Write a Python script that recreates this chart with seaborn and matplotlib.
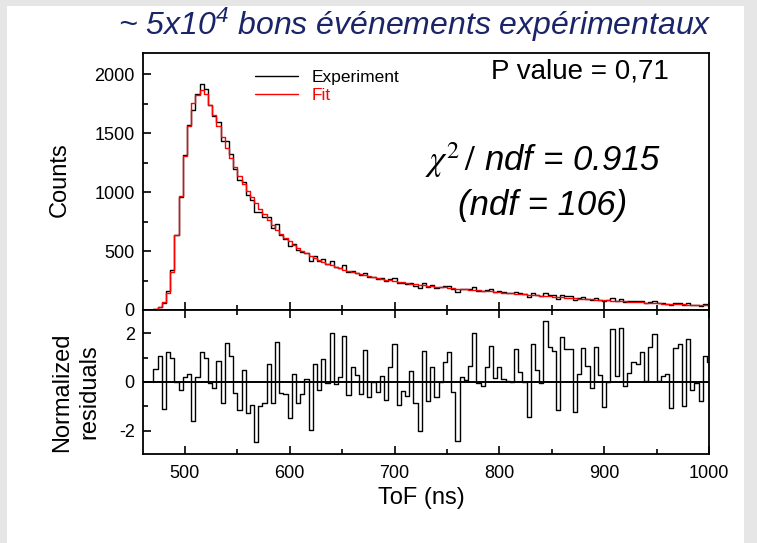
import numpy as np
import pandas as pd
import matplotlib
matplotlib.use("Agg")
import matplotlib.pyplot as plt
import seaborn as sns
from matplotlib.patches import Rectangle
from matplotlib.ticker import MultipleLocator

# ---------------- data ----------------
bin_start = 458          # ns, left edge of first histogram bin
bin_width = 4            # ns
experiment = [0, 1, 2,
    6, 29, 62, 162, 342, 633, 955, 1311, 1568, 1691, 1834, 1916, 1870,
    1738, 1641, 1590, 1429, 1430, 1325, 1193, 1098, 1088, 971,
    928, 831, 828, 786, 785, 699, 725, 634, 600, 546,
    560, 507, 492, 484, 419, 458, 418, 428, 393, 419,
    365, 359, 378, 322, 333, 317, 294, 317, 276, 278,
    264, 268, 245, 261, 269, 225, 228, 220, 231, 206,
    185, 229, 196, 212, 190, 195, 203, 205, 179, 149,
    181, 176, 181, 195, 165, 161, 168, 175, 156, 159,
    149, 146, 142, 155, 141, 133, 114, 145, 130, 121,
    145, 130, 125, 97, 125, 117, 115, 86, 99, 106,
    97, 87, 100, 87, 74, 81, 98, 79, 94, 72,
    74, 76, 73, 75, 63, 72, 74, 57, 57, 55,
    43, 60, 59, 40, 57, 42, 42, 36, 47, 44]
fit = [0, 1, 2,
    5, 24, 72, 147, 325, 633, 965, 1303, 1556, 1757, 1825, 1862, 1828,
    1740, 1652, 1556, 1462, 1372, 1287, 1208, 1137, 1072, 1012,
    957, 905, 857, 810, 765, 722, 682, 645, 612, 581,
    553, 527, 503, 481, 461, 442, 425, 409, 394, 380,
    367, 355, 343, 332, 322, 312, 303, 294, 286, 278,
    271, 264, 257, 251, 245, 239, 234, 229, 224, 219,
    215, 211, 207, 203, 199, 195, 192, 188, 185, 182,
    178, 175, 172, 169, 166, 163, 160, 157, 154, 151,
    148, 145, 142, 139, 136, 133, 130, 127, 124, 121,
    118, 115, 112, 109, 106, 103, 101, 98, 96, 93,
    91, 89, 87, 85, 83, 81, 79, 77, 75, 73,
    71, 69, 67, 65, 63, 61, 59, 57, 55, 53,
    51, 50, 48, 47, 45, 44, 42, 41, 40, 39]
resid_start = 470        # ns, first fitted bin
residuals = [
    0.55, 1.08, -1.12, 1.24, 0.96, 0.02, -0.32, 0.22, 0.31, -1.58,
    0.22, 1.24, 0.99, -0.04, -0.26, 0.86, -0.86, 1.58, 1.07, -0.43,
    -1.15, 0.50, -1.28, -0.93, -2.47, -0.99, -0.84, 0.74, -0.86, 1.65,
    -0.43, -0.49, -1.46, 0.31, -0.86, -0.47, 0.12, -1.95, 0.74, -0.34,
    0.93, -0.03, 2.01, -0.09, 0.22, 1.89, -0.54, 0.62, 0.30, -0.51,
    1.32, -0.62, 0.01, -0.42, 0.23, -0.73, 0.62, 1.54, -0.93, -0.36,
    -0.57, 0.45, -0.86, -2.01, 1.26, -0.78, 0.62, -0.61, 0.02, 0.80,
    1.23, -0.42, -2.42, 0.22, 0.09, 0.65, 2.01, -0.04, -0.16, 0.62,
    1.45, 0.15, 0.62, 0.11, 0.05, 0.01, 1.34, 0.39, 0.02, -1.42,
    1.57, 0.51, -0.04, 2.49, 1.41, 1.26, -1.14, 1.85, 1.35, 1.35,
    -1.22, 0.31, 1.39, 0.66, -0.23, 1.41, 0.27, -1.04, 0.02, 2.16,
    0.24, 2.19, -0.16, 0.35, 0.82, 0.72, 1.23, 0.05, 1.43, 1.96,
    0.05, 0.23, 0.31, -1.08, 1.39, 1.55, -0.97, 1.74, -0.34, -0.05,
    -0.77, 1.07, 0.82]

x_ticks = [500, 600, 700, 800, 900, 1000]
count_ticks = [0, 500, 1000, 1500, 2000]
resid_ticks = [-2, 0, 2]

title = "~ 5x10$^{4}$ bons événements expérimentaux"
p_text = "P value = 0,71"
chi_text = r"$\chi^2\,/$ ndf = 0.915"
ndf_text = "(ndf = 106)"

# ---------------- style ----------------
sns.set_style("white")
plt.rcParams["font.family"] = ["Liberation Sans", "DejaVu Sans"]
plt.rcParams["mathtext.fontset"] = "custom"
plt.rcParams["mathtext.rm"] = "Liberation Sans:italic"
plt.rcParams["mathtext.it"] = "Liberation Sans:italic"
plt.rcParams["axes.unicode_minus"] = False

W, H = 757, 543
fig = plt.figure(figsize=(W / 100, H / 100), dpi=100)
fig.patch.set_facecolor("#e6e6e6")
fig.add_artist(Rectangle((7 / W, 0), (744 - 7) / W, (H - 6) / H,
                         transform=fig.transFigure, facecolor="white",
                         edgecolor="none", zorder=-10))

def fx(px):
    return px / W

def fy(py):
    return 1 - py / H

L, R = 143, 709
ax1 = fig.add_axes([fx(L), fy(310), (R - L) / W, (310 - 53) / H])
ax2 = fig.add_axes([fx(L), fy(454), (R - L) / W, (454 - 310) / H])

# top panel: step histograms
n = len(experiment)
edges = [bin_start + bin_width * i for i in range(n + 1)]
df_top = pd.DataFrame({
    "tof": edges + edges,
    "counts": experiment + [experiment[-1]] + fit + [fit[-1]],
    "series": ["Experiment"] * (n + 1) + ["Fit"] * (n + 1),
})
sns.lineplot(data=df_top[df_top.series == "Experiment"], x="tof", y="counts",
             drawstyle="steps-post", estimator=None, sort=False,
             color="black", lw=1.0, label="Experiment", ax=ax1)
sns.lineplot(data=df_top[df_top.series == "Fit"], x="tof", y="counts",
             drawstyle="steps-post", estimator=None, sort=False,
             color="#ff0000", lw=1.0, label="Fit", ax=ax1)

# residual panel
m = len(residuals)
redges = [resid_start + bin_width * i for i in range(m + 1)]
df_res = pd.DataFrame({"tof": [resid_start] + redges,
                       "res": [0.0] + residuals + [residuals[-1]]})
sns.lineplot(data=df_res, x="tof", y="res", drawstyle="steps-post",
             estimator=None, sort=False, color="black", lw=1.0, ax=ax2)
ax2.axhline(0, color="black", lw=1.4, zorder=3)

# axes
for ax in (ax1, ax2):
    ax.set_xlim(460, 1000)
    ax.set_xticks(x_ticks)
    ax.xaxis.set_minor_locator(MultipleLocator(50))
    ax.set_xlabel("")
    ax.set_ylabel("")
    ax.set_facecolor("white")
    for s in ax.spines.values():
        s.set_color("black")
        s.set_linewidth(1.3)
    ax.tick_params(which="both", direction="in", colors="black",
                   labelsize=13, pad=6, width=1.2)
    ax.tick_params(which="major", length=6)
    ax.tick_params(which="minor", length=3.5)

ax1.set_ylim(0, 2178)
ax1.set_yticks(count_ticks)
ax1.yaxis.set_minor_locator(MultipleLocator(250))
ax1.tick_params(which="both", top=False, right=False, bottom=True, left=True,
                labelbottom=False)

ax2.set_ylim(-2.94, 2.94)
ax2.set_yticks(resid_ticks)
ax2.yaxis.set_minor_locator(MultipleLocator(1))
ax2.tick_params(which="both", top=True, bottom=True, right=False, left=True,
                labeltop=False)
ax2.set_xticklabels([str(v) for v in x_ticks])
ax2.set_yticklabels([str(v) for v in resid_ticks])
ax2.tick_params(axis="x", pad=8)

leg = ax1.legend(loc="upper left", bbox_to_anchor=((255 - L) / (R - L), (310 - 70) / 257),
                 frameon=False, fontsize=12.5, handlelength=2.5,
                 handletextpad=0.75, labelspacing=0.15, borderpad=0,
                 borderaxespad=0, labelcolor="linecolor")

# texts
fig.text(fx(415), fy(25), title, ha="center", va="center", fontsize=23,
         style="italic", color="#1a2468", math_fontfamily="custom")
fig.text(fx(580), fy(72), p_text, ha="center", va="center", fontsize=20,
         color="black")
fig.text(fx(543), fy(160), chi_text, ha="center", va="center", fontsize=25,
         style="italic", color="black", math_fontfamily="stix")
fig.text(fx(543), fy(206), ndf_text, ha="center", va="center", fontsize=25,
         style="italic", color="black")
fig.text(fx(60), fy(180), "Counts", ha="center", va="center", rotation=90,
         fontsize=17, color="black")
fig.text(fx(76), fy(392), "Normalized\nresiduals", ha="center", va="center",
         rotation=90, fontsize=17, color="black", linespacing=1.3,
         multialignment="center")
fig.text(fx(421), fy(498), "ToF (ns)", ha="center", va="center", fontsize=17,
         color="black")

fig.savefig("out.png", dpi=100, facecolor=fig.get_facecolor())
